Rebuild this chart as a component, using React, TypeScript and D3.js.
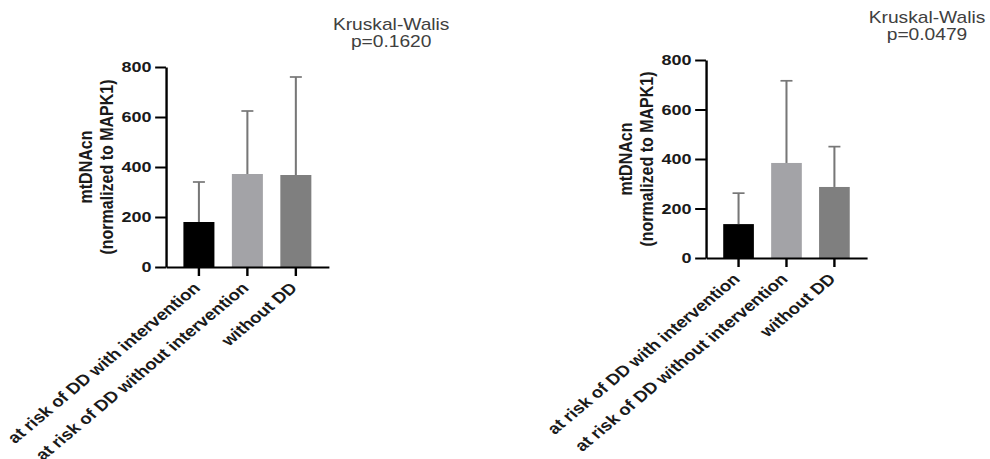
import React, { useEffect, useRef } from 'react';
import * as d3 from 'd3';

// groups on the x axis
const categories = [
  'at risk of DD with intervention',
  'at risk of DD without intervention',
  'without DD',
];

// panel A (left)
const meansA = [180, 372, 368];
const sdA = [160, 252, 392];

// panel B (right)
const meansB = [137, 384, 287];
const sdB = [125, 332, 163];

const yTicks = [0, 200, 400, 600, 800];
const testName = 'Kruskal-Walis';
const pLabels = ['p=0.1620', 'p=0.0479'];
const yTitle = ['mtDNAcn', '(normalized to MAPK1)'];

const barColors = ['#000000', '#a3a3a7', '#7f7f7f'];

// the source image is stretched horizontally, so we draw in a narrower
// coordinate space and let the viewBox widen it
const STRETCH = 1.2;
const W = 990;
const H = 459;
const FONT = '"Liberation Sans", Arial, sans-serif';

const App = () => {
  const svgRef = useRef(null);

  useEffect(() => {
    const svg = d3.select(svgRef.current);
    svg.selectAll('*').remove();

    const panels = [
      { means: meansA, sd: sdA, p: pLabels[0], x0: 138.3, x1: 274, yTop: 67, yBot: 267, tx: 326, ty: 30 },
      { means: meansB, sd: sdB, p: pLabels[1], x0: 588.3, x1: 722.5, yTop: 60, yBot: 258, tx: 772.5, ty: 23.5 },
    ];

    panels.forEach(pn => {
      const g = svg.append('g');

      const x = d3
        .scaleBand()
        .domain(categories)
        .range([pn.x0, pn.x1])
        .paddingInner(0.36)
        .paddingOuter(0.36);

      const y = d3.scaleLinear().domain([0, 800]).range([pn.yBot, pn.yTop]);

      // bars
      g.selectAll('.bar')
        .data(pn.means)
        .enter()
        .append('rect')
        .attr('x', (d, i) => x(categories[i]))
        .attr('y', d => y(d))
        .attr('width', x.bandwidth())
        .attr('height', d => y(0) - y(d))
        .attr('fill', (d, i) => barColors[i]);

      // error bars (upper only)
      pn.means.forEach((m, i) => {
        const cx = x(categories[i]) + x.bandwidth() / 2;
        const top = y(m + pn.sd[i]);
        g.append('line')
          .attr('x1', cx).attr('x2', cx)
          .attr('y1', y(m)).attr('y2', top)
          .attr('stroke', '#777').attr('stroke-width', 1.7);
        g.append('line')
          .attr('x1', cx - 5).attr('x2', cx + 5)
          .attr('y1', top).attr('y2', top)
          .attr('stroke', '#777').attr('stroke-width', 1.7);
      });

      // y axis
      const ya = g
        .append('g')
        .attr('transform', `translate(${pn.x0},0)`)
        .call(d3.axisLeft(y).tickValues(yTicks).tickSize(9).tickSizeOuter(0).tickPadding(3));
      ya.select('.domain').attr('stroke', '#000').attr('stroke-width', 2);
      ya.selectAll('.tick line').attr('stroke', '#000').attr('stroke-width', 2);
      ya.selectAll('.tick text')
        .attr('font-family', FONT)
        .attr('font-size', 15)
        .attr('font-weight', 'bold')
        .attr('fill', '#1a1a1a');

      // x axis
      const xa = g
        .append('g')
        .attr('transform', `translate(0,${pn.yBot})`)
        .call(d3.axisBottom(x).tickSize(9).tickSizeOuter(0));
      xa.select('.domain').attr('stroke', '#000').attr('stroke-width', 2);
      xa.selectAll('.tick line').attr('stroke', '#000').attr('stroke-width', 2);
      xa.selectAll('.tick text')
        .attr('font-family', FONT)
        .attr('font-size', 15.5)
        .attr('font-weight', 'bold')
        .attr('fill', '#1a1a1a')
        .attr('text-anchor', 'end')
        .attr('dy', 0)
        .attr('y', 0)
        .attr('transform', 'translate(2,22) rotate(-45)');

      // y axis title
      const cy = (pn.yTop + pn.yBot) / 2;
      [62, 44].forEach((off, k) => {
        g.append('text')
          .attr('transform', `translate(${pn.x0 - off},${cy}) rotate(-90)`)
          .attr('text-anchor', 'middle')
          .attr('font-family', FONT)
          .attr('font-size', 16)
          .attr('font-weight', 'bold')
          .attr('fill', '#1a1a1a')
          .text(yTitle[k]);
      });

      // statistics annotation
      g.append('text')
        .attr('x', pn.tx).attr('y', pn.ty)
        .attr('text-anchor', 'middle')
        .attr('font-family', FONT)
        .attr('font-size', 16)
        .attr('fill', '#404040')
        .text(testName);
      g.append('text')
        .attr('x', pn.tx).attr('y', pn.ty + 17)
        .attr('text-anchor', 'middle')
        .attr('font-family', FONT)
        .attr('font-size', 16)
        .attr('fill', '#404040')
        .text(pn.p);
    });
  }, []);

  return (
    <svg
      ref={svgRef}
      width={W}
      height={H}
      viewBox={`0 0 ${W / STRETCH} ${H}`}
      preserveAspectRatio="none"
      style={{ position: 'absolute', left: 0, top: 0, background: '#fff' }}
    />
  );
};

export default App;
